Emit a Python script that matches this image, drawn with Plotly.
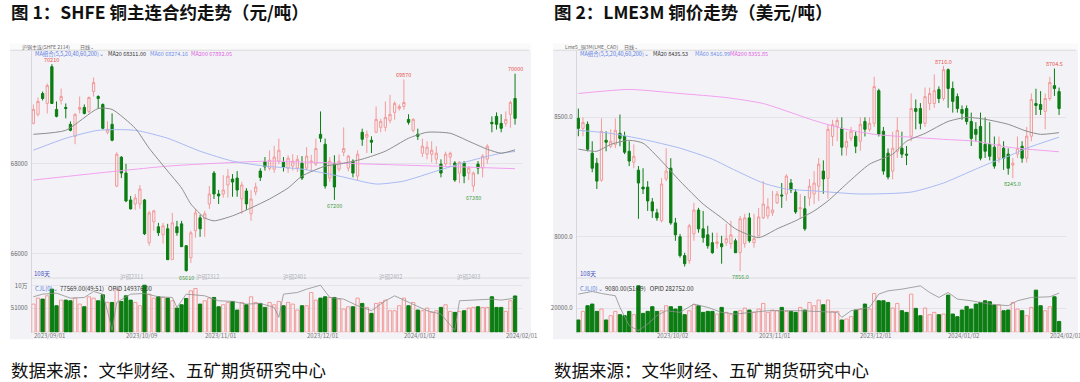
import plotly.graph_objects as go

W, H = 1080, 382

# ---------------- SHFE copper main contract (CNY/t) ----------------
shfe_open = [68898, 69097, 69560, 69340, 70156, 69207, 69406, 69251, 68876, 68611,
             69207, 69251, 69163, 69604, 69494, 69317, 68700, 68876, 67508, 68148,
             67795, 67198, 67110, 67110, 67198, 66250, 66713, 66603, 66426, 66559,
             65874, 66603, 66669, 66184, 65918, 66515, 66802, 66780, 67110, 67795,
             67331, 67331, 67530, 67662, 67684, 67221, 67398, 66890, 67376, 67840,
             68050, 67900, 67880, 68060, 68037, 67905, 67950, 67905, 68015, 67905,
             68037, 67994, 68656, 68435, 67684, 68000, 67883, 68258, 67905, 68060,
             67728, 68700, 68590, 68523, 68700, 68810, 68810, 68964, 69141, 69229,
             69273, 68986, 68744, 68656, 68236, 68214, 68214, 68104, 67994, 68000,
             68150, 68020, 67795, 68015, 67795, 67508, 67994, 67905, 68104, 68920,
             69053, 68898, 68898, 69097, 69450]
shfe_high = [69317, 69472, 69604, 69781, 70210, 69384, 69670, 69340, 68942, 69119,
             69494, 69317, 69494, 69913, 69520, 69340, 68942, 69119, 68258, 68170,
             68000, 67287, 67331, 67530, 67220, 66956, 66980, 66690, 66690, 66669,
             66912, 66735, 66735, 66184, 66515, 67000, 66870, 66956, 67508, 67839,
             67420, 67750, 67883, 67772, 67839, 67600, 67460, 67420, 67580, 67900,
             68150, 68300, 68400, 68560, 68150, 68190, 68214, 68190, 68170, 68370,
             68200, 68560, 69163, 68560, 68150, 68190, 68210, 68810, 68200, 68100,
             68300, 68780, 68740, 68610, 69273, 69000, 69384, 69530, 69384, 69320,
             69870, 69100, 69010, 68780, 68560, 68500, 68500, 68390, 68100, 68270,
             68270, 68060, 68060, 68060, 67950, 67830, 68060, 68214, 68435, 69053,
             69141, 69100, 69163, 69400, 70000]
shfe_low = [68876, 69053, 69406, 69119, 69340, 69031, 69317, 69009, 68722, 68435,
            69119, 69097, 69119, 69494, 69229, 68766, 68655, 68500, 67480, 67684,
            67150, 66990, 66980, 67000, 66420, 66184, 66515, 66400, 66230, 65874,
            65874, 66404, 66162, 65610, 65800, 66360, 66380, 66380, 67000, 67220,
            67110, 67250, 67250, 67270, 67270, 66890, 66980, 66735, 67300, 67620,
            67850, 67850, 67800, 67994, 67830, 67800, 67850, 67820, 67640, 67860,
            67850, 67950, 68480, 67450, 67600, 67200, 67830, 68170, 67830, 67700,
            67640, 68400, 68240, 68240, 68680, 68700, 68720, 68900, 68980, 69180,
            69200, 68870, 68700, 68530, 68150, 68100, 68030, 67990, 67700, 67960,
            67960, 67600, 67570, 67570, 67640, 67380, 67770, 67700, 68000, 68700,
            68760, 68700, 68830, 68800, 68870]
shfe_close = [69207, 69384, 69450, 69737, 69340, 69053, 69494, 69229, 68744, 69097,
              69251, 69119, 69472, 69803, 69450, 68788, 68766, 68523, 68214, 67795,
              67177, 67000, 67243, 67442, 66447, 66912, 66956, 66471, 66625, 65874,
              66691, 66471, 66162, 65632, 66470, 66912, 66559, 66890, 67331, 67331,
              67287, 67420, 67728, 67596, 67420, 67530, 67110, 67221, 67486, 67700,
              67930, 68080, 68150, 68302, 67927, 68126, 68060, 68100, 67684, 68170,
              68060, 68340, 68567, 67508, 68060, 67486, 68060, 68340, 68170, 67795,
              68214, 68545, 68656, 68480, 68986, 68942, 69031, 69097, 69340, 69273,
              69362, 68920, 68986, 68611, 68391, 68370, 68302, 68236, 67795, 68214,
              68236, 67640, 68037, 67728, 67905, 67795, 67905, 68170, 68391, 68890,
              68876, 68788, 68986, 69362, 69009]
shfe_volume = [60180, 72924, 70800, 77880, 92040, 56640, 68676, 68676, 67260, 72924,
               60180, 54516, 75756, 72924, 67260, 80004, 63720, 63720, 92040, 65844,
               77880, 68676, 63720, 56640, 100536, 81420, 72924, 75756, 74340, 72924,
               67260, 51684, 58764, 72216, 88500, 93456, 60180, 67260, 72924, 74340,
               54516, 58764, 63720, 65844, 47436, 63720, 58764, 75756, 63720, 61596,
               53100, 63720, 58764, 65844, 56640, 63720, 60180, 47436, 56640, 56640,
               84960, 68676, 72924, 75756, 74340, 74340, 70800, 49560, 54516, 54516,
               72924, 61596, 53100, 40356, 61596, 63720, 68676, 46020, 46020, 56640,
               72924, 56640, 63720, 47436, 46020, 51684, 42480, 46020, 53100, 58764,
               44604, 42480, 44604, 46020, 51684, 53100, 54516, 53100, 53100, 75756,
               53100, 53100, 44604, 67260, 77569]
shfe_ma20_idx = [0, 7, 14, 17, 22, 25, 29, 32, 34, 37, 39, 43, 47, 51, 55, 58, 63, 66, 71, 76, 81, 85, 90, 94, 98, 101, 104]
shfe_ma20 = [68655, 68744, 69229, 69207, 68788, 68346, 67839, 67464, 67110, 66802, 66735, 66846, 67022, 67221,
             67464, 67729, 67949, 67994, 68104, 68280, 68567, 68700, 68678, 68501, 68324, 68236, 68311]
shfe_ma60_idx = [0, 7, 14, 22, 29, 36, 43, 50, 58, 66, 74, 80, 87, 94, 101, 104]
shfe_ma60 = [68302, 68567, 68744, 68744, 68567, 68280, 68060, 67949, 67883, 67728, 67552, 67618, 67839, 68060, 68236, 68274]
shfe_ma200_idx = [0, 14, 29, 40, 51, 66, 87, 104]
shfe_ma200 = [67640, 67795, 67949, 68015, 68060, 68015, 67949, 67892]
shfe_volma_idx = [0, 2, 5, 8, 11, 13, 15, 16, 17, 18, 21, 24, 27, 30, 31, 33, 37, 40, 43, 46, 49, 52, 53, 54,
                  57, 59, 62, 64, 67, 70, 73, 76, 78, 82, 85, 88, 91, 92, 95, 99, 101, 104]
shfe_volma = [75756, 81420, 83544, 72924, 74340, 87084, 81420, 46020, 4000, 63720, 81420, 82836, 75756, 74340,
              53100, 81420, 77880, 67260, 65844, 60180, 61596, 53100, 31860, 81420, 84960, 92040, 100536, 74340,
              70800, 56640, 46020, 67260, 77880, 60180, 46020, 38940, 4000, 67260, 68676, 70800, 68676, 72924]
shfe_date_idx = [0, 20, 37, 59, 80, 102]
shfe_date_text = ["2023/09/01", "2023/10/09", "2023/11/01", "2023/12/01", "2024/01/02", "2024/02/01"]
shfe_contract_idx = [18.3, 34.6, 53.5, 74.2, 91.0]
shfe_contract_text = ["沪铜2311", "沪铜2312", "沪铜2401", "沪铜2402", "沪铜2403"]

# ---------------- LME 3M copper (USD/t) ----------------
lme_open = [8496, 8454, 8471, 8350, 8308, 8237, 8404, 8379, 8387, 8433,
            8421, 8358, 8312, 8279, 8208, 8208, 8146, 8100, 8067, 8242,
            8287, 8058, 8000, 7921, 7900, 8012, 8112, 8033, 8008, 7975,
            7971, 7971, 7975, 7971, 7983, 7933, 7971, 8079, 7975, 8004,
            8079, 8087, 8100, 8142, 8175, 8179, 8225, 8187, 8117, 8117,
            8162, 8179, 8212, 8275, 8245, 8420, 8462, 8454, 8375, 8412,
            8421, 8400, 8483, 8450, 8475, 8612, 8442, 8350, 8275, 8358,
            8371, 8346, 8421, 8537, 8537, 8475, 8558, 8558, 8617, 8579,
            8700, 8621, 8587, 8533, 8537, 8483, 8450, 8462, 8387, 8387,
            8375, 8329, 8371, 8346, 8300, 8346, 8379, 8329, 8421, 8558,
            8554, 8525, 8579, 8633, 8608]
lme_high = [8537, 8500, 8483, 8400, 8330, 8496, 8442, 8450, 8496, 8512,
            8440, 8400, 8387, 8296, 8287, 8233, 8162, 8117, 8246, 8371,
            8329, 8079, 8012, 7933, 8054, 8142, 8121, 8108, 8046, 8017,
            8017, 8004, 8054, 8067, 7992, 8087, 8096, 8100, 8096, 8121,
            8233, 8162, 8192, 8192, 8225, 8262, 8242, 8200, 8179, 8171,
            8242, 8275, 8330, 8320, 8470, 8490, 8500, 8500, 8440, 8460,
            8440, 8500, 8500, 8500, 8670, 8620, 8460, 8370, 8440, 8500,
            8440, 8380, 8600, 8575, 8560, 8625, 8625, 8680, 8630, 8716,
            8705, 8650, 8600, 8550, 8550, 8520, 8480, 8520, 8500, 8480,
            8420, 8420, 8400, 8370, 8330, 8420, 8400, 8460, 8600, 8620,
            8610, 8600, 8670, 8704.5, 8625]
lme_low = [8421, 8421, 8358, 8270, 8200, 8230, 8358, 8371, 8371, 8379,
           8346, 8296, 8287, 8075, 8179, 8108, 8079, 8067, 8060, 8233,
           8050, 7983, 7912, 7875, 7887, 7983, 8017, 7975, 7950, 7929,
           7950, 7887, 7962, 7950, 7933, 7856, 7954, 7975, 7954, 8000,
           8075, 8075, 8087, 8137, 8121, 8150, 8183, 8096, 8075, 8025,
           8129, 8137, 8150, 8180, 8160, 8380, 8400, 8340, 8340, 8400,
           8350, 8360, 8420, 8440, 8460, 8420, 8260, 8240, 8240, 8330,
           8330, 8300, 8400, 8450, 8450, 8460, 8530, 8540, 8560, 8570,
           8540, 8520, 8520, 8490, 8470, 8380, 8400, 8320, 8330, 8320,
           8285, 8310, 8280, 8260, 8245, 8330, 8310, 8310, 8400, 8510,
           8510, 8450, 8570, 8590, 8510]
lme_close = [8454, 8479, 8367, 8287, 8233, 8442, 8396, 8400, 8446, 8412,
             8354, 8317, 8337, 8225, 8200, 8150, 8108, 8079, 8221, 8275,
             8058, 8008, 7921, 7887, 8046, 8112, 8033, 7996, 7962, 7933,
             7979, 7958, 7992, 8008, 7933, 8075, 8079, 7983, 7992, 8083,
             8137, 8125, 8112, 8179, 8171, 8254, 8196, 8104, 8121, 8033,
             8212, 8225, 8304, 8242, 8450, 8470, 8487, 8375, 8400, 8442,
             8379, 8471, 8450, 8475, 8629, 8429, 8275, 8250, 8371, 8446,
             8346, 8342, 8537, 8525, 8475, 8587, 8600, 8612, 8579, 8700,
             8621, 8567, 8537, 8517, 8483, 8412, 8429, 8329, 8358, 8337,
             8296, 8387, 8329, 8287, 8308, 8371, 8329, 8421, 8575, 8550,
             8533, 8579, 8646, 8621, 8537]
lme_volume = [10279, 17501, 22224, 23613, 17501, 19446, 10279, 13890, 17501, 14723,
              13890, 17501, 14723, 38892, 15835, 17501, 21391, 17501, 18057, 22224,
              21391, 19446, 21668, 14723, 18057, 23057, 22224, 16668, 17501, 17501,
              15279, 20835, 16668, 14723, 17501, 18057, 20279, 18613, 16668, 19446,
              24169, 16668, 18613, 18057, 20835, 17501, 17501, 16668, 20835, 18613,
              25002, 22224, 26947, 23057, 26947, 17501, 17501, 10279, 11112, 13057,
              18613, 19446, 23613, 19446, 32503, 26391, 26391, 25002, 20279, 24169,
              18057, 16668, 31947, 20002, 13890, 20279, 14723, 16668, 14723, 15279,
              31114, 15279, 13057, 18613, 21668, 19446, 23613, 25002, 26391, 25558,
              22780, 22780, 18057, 18613, 25002, 19446, 18057, 13890, 20835, 35281,
              22224, 18057, 21391, 29725, 9080]
lme_ma20_idx = [0, 4, 7, 11, 14, 18, 22, 27, 31, 34, 39, 43, 47, 51, 54, 58, 63, 68, 71, 75, 80, 84, 88, 93, 97, 100, 104]
lme_ma20 = [8367, 8358, 8387, 8404, 8392, 8317, 8233, 8137, 8079, 8033, 7996, 8033, 8067, 8108, 8150, 8221, 8304,
            8346, 8400, 8433, 8483, 8500, 8492, 8471, 8442, 8429, 8436]
lme_ma60_idx = [0, 7, 14, 22, 29, 33, 40, 45, 51, 61, 72, 79, 85, 89, 93, 97, 104]
lme_ma60 = [8446, 8433, 8408, 8371, 8325, 8287, 8225, 8200, 8192, 8179, 8187, 8225, 8275, 8308, 8337, 8371, 8417]
lme_ma200_idx = [0, 11, 22, 32, 40, 51, 57, 64, 72, 79, 86, 93, 104]
lme_ma200 = [8600, 8617, 8600, 8583, 8558, 8487, 8454, 8429, 8417, 8408, 8400, 8375, 8356]
lme_volma_idx = [0, 3, 5, 8, 9, 11, 13, 15, 17, 19, 22, 25, 28, 31, 34, 41, 48, 56, 57, 59, 63, 65, 67, 70,
                 74, 76, 78, 80, 82, 85, 89, 93, 95, 98, 102, 104]
lme_volma = [31947, 34169, 32503, 30558, 20835, 5556, 1389, 6945, 13890, 18057, 16668, 23613, 20835, 16668,
             15279, 18057, 18057, 16668, 12501, 18057, 20835, 31947, 34725, 36114, 38892, 33336, 29169, 33336,
             27780, 26391, 23613, 22224, 26391, 29169, 29725, 32780]
lme_date_idx = [17, 39, 61, 80, 102]
lme_date_text = ["2023/10/02", "2023/11/01", "2023/12/01", "2024/01/02", "2024/02/01"]

# ---------------- styling ----------------
PINK = "#f39a9a"
GREEN = "#0b7d12"
PANEL = "#f3f3f7"
FONT = "Noto Sans CJK SC"

N = len(shfe_open)
xs = list(range(N))

fig = go.Figure()


def add_panel(o, h, l, c, vol, ma, volma, xa, ya, xv, yv):
    fig.add_trace(go.Candlestick(
        x=xs, open=o, high=h, low=l, close=c, xaxis=xa, yaxis=ya,
        increasing=dict(line=dict(color=PINK, width=1), fillcolor="rgba(0,0,0,0)"),
        decreasing=dict(line=dict(color=GREEN, width=1), fillcolor=GREEN),
        whiskerwidth=0, showlegend=False, hoverinfo="skip"))
    for (idx, vals, col) in ma:
        fig.add_trace(go.Scatter(x=idx, y=vals, mode="lines", xaxis=xa, yaxis=ya,
                                 line=dict(color=col, width=1, shape="spline", smoothing=0.6),
                                 showlegend=False, hoverinfo="skip"))
    up = [cc >= oo for oo, cc in zip(o, c)]
    fig.add_trace(go.Bar(
        x=xs, y=vol, xaxis=xv, yaxis=yv,
        marker=dict(color=["rgba(0,0,0,0)" if u else GREEN for u in up],
                    line=dict(color=[PINK if u else GREEN for u in up], width=1)),
        showlegend=False, hoverinfo="skip"))
    fig.add_trace(go.Scatter(x=volma[0], y=volma[1], mode="lines", xaxis=xv, yaxis=yv,
                             line=dict(color="#8f8f8f", width=0.8),
                             showlegend=False, hoverinfo="skip"))


add_panel(shfe_open, shfe_high, shfe_low, shfe_close, shfe_volume,
          [(shfe_ma200_idx, shfe_ma200, "#f2a0ee"), (shfe_ma60_idx, shfe_ma60, "#a9b9f2"),
           (shfe_ma20_idx, shfe_ma20, "#8c8c8c")],
          (shfe_volma_idx, shfe_volma), "x", "y", "x2", "y2")
add_panel(lme_open, lme_high, lme_low, lme_close, lme_volume,
          [(lme_ma200_idx, lme_ma200, "#f2a0ee"), (lme_ma60_idx, lme_ma60, "#a9b9f2"),
           (lme_ma20_idx, lme_ma20, "#8c8c8c")],
          (lme_volma_idx, lme_volma), "x3", "y3", "x4", "y4")


def fx(p):
    return p / W


def fy(p):
    return 1 - p / H


XR = [-0.4, 105.5]
tickfont = dict(family=FONT, size=6, color="#666666")
common_x = dict(range=XR, showgrid=False, zeroline=False, showticklabels=False, ticks="",
                showline=False, fixedrange=True)
common_y = dict(zeroline=False, ticks="", showline=False, tickfont=tickfont,
                gridcolor="#e3e3e9", gridwidth=1, ticklabelstandoff=3)

L_DOM = [fx(31.5), fx(522)]
R_DOM = [fx(576.5), fx(1066)]
P_DOM = [fy(277), fy(50)]
V_DOM = [fy(332), fy(282)]

fig.update_layout(
    width=W, height=H, margin=dict(l=0, r=0, t=0, b=0),
    paper_bgcolor="white", plot_bgcolor="rgba(0,0,0,0)",
    bargap=0.28, showlegend=False,
    xaxis=dict(domain=L_DOM, anchor="y", rangeslider=dict(visible=False), **common_x),
    yaxis=dict(domain=P_DOM, anchor="x", range=[65477, 70487], tickvals=[66000, 68000],
               ticktext=["66000", "68000"], **common_y),
    xaxis2=dict(domain=L_DOM, anchor="y2", **common_x),
    yaxis2=dict(domain=V_DOM, anchor="x2", range=[0, 106250], tickvals=[51000, 100000],
                ticktext=["51000", "10万"], **common_y),
    xaxis3=dict(domain=R_DOM, anchor="y3", rangeslider=dict(visible=False), **common_x),
    yaxis3=dict(domain=P_DOM, anchor="x3", range=[7829, 8775], tickvals=[8000, 8500],
                ticktext=["8000.0", "8500.0"], **common_y),
    xaxis4=dict(domain=R_DOM, anchor="y4", **common_x),
    yaxis4=dict(domain=V_DOM, anchor="x4", range=[0, 41667], tickvals=[20000],
                ticktext=["20000.0"], **common_y),
)

shapes = []
for (x0, x1, ax) in [(10, 531, 31.5), (553, 1078, 576.5)]:
    shapes.append(dict(type="rect", xref="paper", yref="paper", x0=fx(x0), x1=fx(x1), y0=fy(339), y1=fy(42),
                       fillcolor=PANEL, line=dict(width=0), layer="below"))
    shapes.append(dict(type="rect", xref="paper", yref="paper", x0=fx(x0), x1=fx(x1), y0=fy(48.5), y1=fy(42),
                       fillcolor="#fafafa", line=dict(width=0), layer="below"))
    for yy in [48.5, 277.5]:
        shapes.append(dict(type="line", xref="paper", yref="paper", x0=fx(x0 + 0.5 if yy < 50 else ax), x1=fx(x1 - 2),
                           y0=fy(yy), y1=fy(yy), line=dict(color="#dadade", width=1), layer="below"))
    shapes.append(dict(type="line", xref="paper", yref="paper", x0=fx(ax), x1=fx(ax), y0=fy(333), y1=fy(49),
                       line=dict(color="#d6d6dc", width=1), layer="below"))
fig.update_layout(shapes=shapes)

ann = []


def txt(x, y, s, size=6, color="#555555", xanchor="left", bold=False, family=FONT):
    ann.append(dict(xref="paper", yref="paper", x=fx(x), y=fy(y), text=("<b>%s</b>" % s) if bold else s,
                    showarrow=False, xanchor=xanchor, yanchor="middle",
                    font=dict(family=family, size=size, color=color)))


# titles and sources
txt(9, 10, "图 1：SHFE 铜主连合约走势（元/吨）", size=17.5, color="#111111", bold=True)
txt(552, 10, "图 2：LME3M 铜价走势（美元/吨）", size=17.5, color="#111111", bold=True)
txt(9, 369, "数据来源：文华财经、五矿期货研究中心", size=17.5, color="#111111")
txt(552, 369, "数据来源：文华财经、五矿期货研究中心", size=17.5, color="#111111")

# panel headers
txt(20, 45.3, "沪铜主连(SHFE 2114)", size=5, color="#666666")
txt(78, 45.3, "日线⌄", size=5, color="#666666")
txt(33, 51.8, "MA组合(5,5,20,40,60,200)⌄", size=5.5, color="#5b7be0")
txt(106, 51.8, "MA20 68311.00", size=5.5, color="#333333")
txt(148, 51.8, "MA60 68274.16", size=5.5, color="#6f8fe8")
txt(189, 51.8, "MA200 67892.05", size=5.5, color="#e05ee0")
txt(32, 273, "108天", size=6, color="#3f4fc0")
txt(33, 288, "CJL(0)⌄", size=6, color="#5b7be0")
txt(58, 288, "77569.00(49:51)   OPID 149376.00", size=6, color="#333333")

txt(563, 45.3, "Lme5_铜3M(LME_CAD)", size=5, color="#666666")
txt(622, 45.3, "日线⌄", size=5, color="#666666")
txt(578, 51.8, "MA组合(5,5,20,40,60,200)⌄", size=5.5, color="#5b7be0")
txt(651, 51.8, "MA20 8435.53", size=5.5, color="#333333")
txt(693, 51.8, "MA60 8416.99", size=5.5, color="#6f8fe8")
txt(728, 51.8, "MA200 8355.85", size=5.5, color="#e05ee0")
txt(578, 273, "108天", size=6, color="#3f4fc0")
txt(578, 288, "CJL(0)⌄", size=6, color="#5b7be0")
txt(603, 288, "9080.00(51:49)   OPID 282752.00", size=6, color="#333333")

# contract roll labels (SHFE)
for i, s in zip(shfe_contract_idx, shfe_contract_text):
    ann.append(dict(xref="x", yref="paper", x=i, y=fy(276), text=s, showarrow=False, xanchor="left",
                    yanchor="middle", font=dict(family=FONT, size=5.5, color="#b0b0b8")))

# date labels
for i, s in zip(shfe_date_idx, shfe_date_text):
    ann.append(dict(xref="x2", yref="paper", x=i - 0.4, y=fy(335.5), text=s, showarrow=False, xanchor="left",
                    yanchor="middle", font=dict(family=FONT, size=6, color="#777777")))
for i, s in zip(lme_date_idx, lme_date_text):
    ann.append(dict(xref="x4", yref="paper", x=i - 0.4, y=fy(335.5), text=s, showarrow=False, xanchor="left",
                    yanchor="middle", font=dict(family=FONT, size=6, color="#777777")))

# extreme value labels
RED = "#e8504a"
GLAB = "#3e9a3e"
for (xa, ya, i, v, s, col, up) in [
        ("x", "y", 4, shfe_high[4], "70210", RED, True),
        ("x", "y", 80, shfe_high[80], "69870", RED, True),
        ("x", "y", 104, shfe_high[104], "70000", RED, True),
        ("x", "y", 65, shfe_low[65], "67200", GLAB, False),
        ("x", "y", 33, shfe_low[33], "65610", GLAB, False),
        ("x", "y", 95, shfe_low[95], "67380", GLAB, False),
        ("x3", "y3", 79, lme_high[79], "8716.0", RED, True),
        ("x3", "y3", 103, lme_high[103], "8704.5", RED, True),
        ("x3", "y3", 35, lme_low[35], "7856.0", GLAB, False),
        ("x3", "y3", 94, lme_low[94], "8245.0", GLAB, False)]:
    ann.append(dict(xref=xa, yref=ya, x=i, y=v, text=s, showarrow=False, xanchor="center",
                    yanchor="bottom" if up else "top", yshift=-0.8 if up else -1, borderpad=0,
                    font=dict(family=FONT, size=5.5, color=col)))

fig.update_layout(annotations=ann)

fig.write_html("out.html", config={"displayModeBar": False, "responsive": False})
